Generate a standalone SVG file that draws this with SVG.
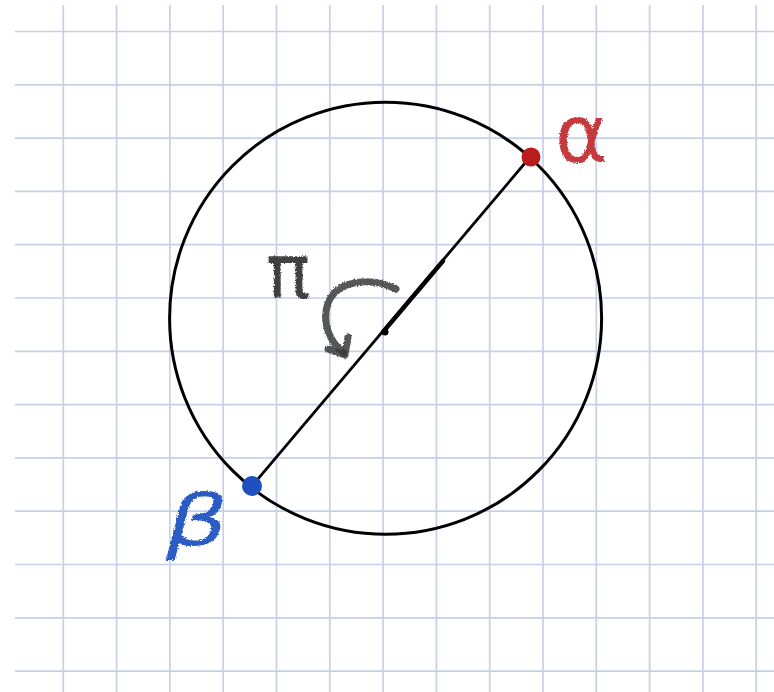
<svg xmlns="http://www.w3.org/2000/svg" width="774" height="692" viewBox="0 0 774 692">
  <style>
    .grid { stroke: #c6d0e7; stroke-width: 1.7; fill: none; }
    .ink { stroke: #000; fill: none; stroke-linecap: round; }
    .hand { font-family: "DejaVu Sans", "Noto Sans", sans-serif; }
  </style>
  <defs>
    <filter id="crayon" x="-20%" y="-20%" width="140%" height="140%">
      <feTurbulence type="fractalNoise" baseFrequency="0.9" numOctaves="2" seed="3" result="n"/>
      <feDisplacementMap in="SourceGraphic" in2="n" scale="3" xChannelSelector="R" yChannelSelector="G"/>
    </filter>
  </defs>
  <rect width="774" height="692" fill="#fff"/>
  <g id="grid" class="grid">
    <path d="M63.3 5V692M116.6 5V692M169.9 5V692M223.2 5V692M276.5 5V692M329.8 5V692M383.1 5V692M436.4 5V692M489.7 5V692M543 5V692M596.3 5V692M649.6 5V692M702.9 5V692M756.2 5V692"/>
    <path d="M15 31.5H774M15 84.8H774M15 138.1H774M15 191.4H774M15 244.7H774M15 298H774M15 351.3H774M15 404.6H774M15 457.9H774M15 511.2H774M15 564.5H774M15 617.8H774M15 671.1H774"/>
  </g>
  <g id="circle">
    <circle class="ink" cx="385.6" cy="318.2" r="216" stroke-width="3"/>
  </g>
  <g id="connectors">
    <line class="ink" x1="531" y1="156" x2="252" y2="486" stroke-width="2.8"/>
    <line class="ink" x1="383" y1="332" x2="443" y2="261" stroke-width="4.4"/>
    <g filter="url(#crayon)" stroke="#3a3a3a" stroke-opacity="0.85" fill="none" stroke-width="7" stroke-linecap="round" stroke-linejoin="round">
      <path d="M396 289 C372 277 338 279 328 303 C321 323 330 342 344 353"/>
      <path d="M328 349 L345 355 L348 337"/>
    </g>
  </g>
  <g id="center">
    <circle cx="385" cy="332" r="3.5" fill="#000"/>
  </g>
  <g id="alpha">
    <circle cx="531" cy="157" r="9.5" fill="#b81c1c"/>
    <text class="hand" x="555" y="162" font-size="80" fill="#c53a3d" filter="url(#crayon)">α</text>
  </g>
  <g id="beta">
    <circle cx="252" cy="486" r="10" fill="#1f50bf"/>
    <text class="hand" transform="translate(166 545) scale(1.35 1)" x="0" y="0" font-size="72" font-style="italic" fill="#2a5cc4" filter="url(#crayon)">β</text>
  </g>
  <g id="pi">
    <text class="hand" x="266" y="298" font-size="74" fill="#2e2e2e" fill-opacity="0.9" filter="url(#crayon)">π</text>
  </g>
</svg>
